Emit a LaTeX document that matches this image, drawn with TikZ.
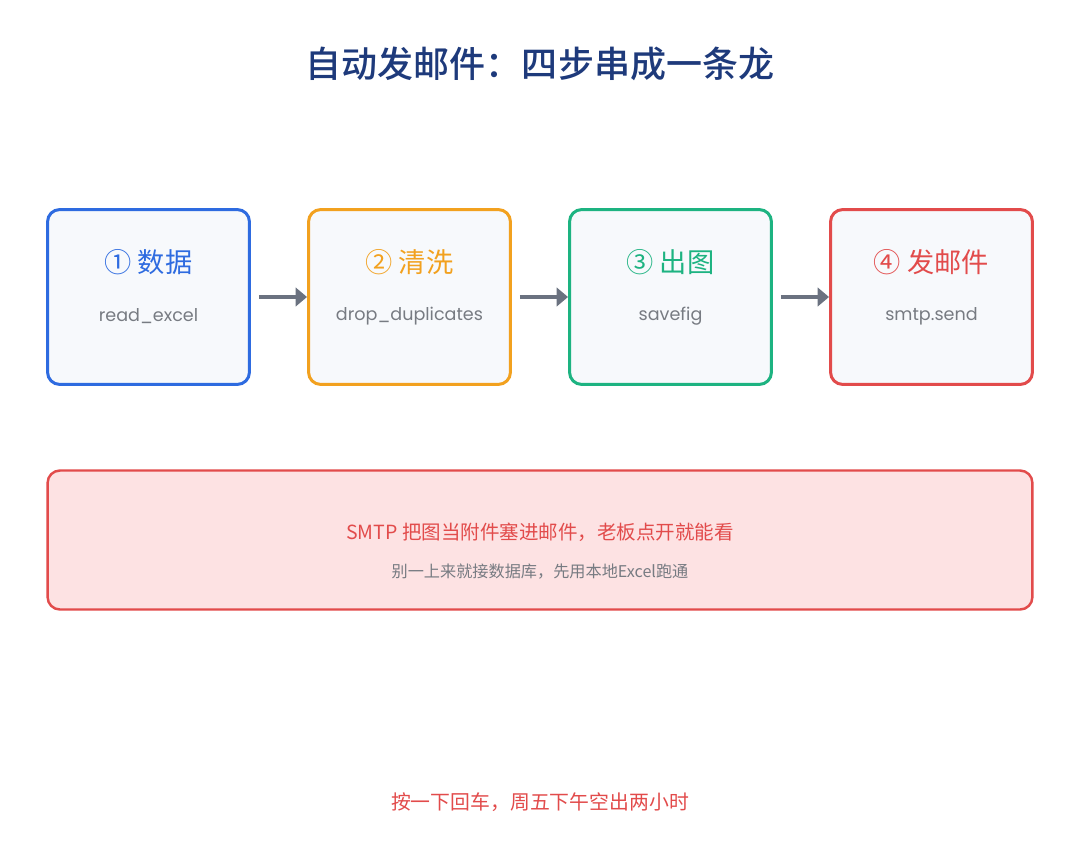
\documentclass[tikz,border=0pt]{standalone}
\usepackage{fontspec}
\setmainfont{Noto Sans CJK SC}
\newfontfamily\medfont{Noto Sans CJK SC Medium}
\newfontfamily\codefont{Poppins}
\usetikzlibrary{positioning, arrows.meta}

\definecolor{titleblue}{HTML}{1E3A7B}
\definecolor{stepblue}{HTML}{2E6BE0}
\definecolor{steporange}{HTML}{F2A11F}
\definecolor{stepgreen}{HTML}{1DB381}
\definecolor{stepred}{HTML}{E24B4B}
\definecolor{boxfill}{HTML}{F7F9FC}
\definecolor{notefill}{HTML}{FDE2E3}
\definecolor{codegray}{HTML}{777B82}
\definecolor{arrowgray}{HTML}{6B7280}

\tikzset{
    stepbox/.style={draw=#1, line width=1.7pt, rounded corners=7pt, fill=boxfill,
        minimum width=4.04cm, minimum height=3.5cm},
    steptitle/.style={text=#1, font=\fontsize{15.5}{17}\selectfont},
    stepcode/.style={text=codegray, font=\codefont\fontsize{10}{12}\selectfont},
    flow/.style={draw=arrowgray, line width=2.3pt,
        -{Triangle[length=6.5pt, width=10.5pt]}, shorten <=0.16cm}
}

\begin{document}
\begin{tikzpicture}[x=0.02cm, y=-0.02cm]
        \useasboundingbox[fill=white] (0,0) rectangle (1080,866);

        \node[text=titleblue, font=\medfont\fontsize{20.5}{24}\selectfont] (title) at (540,64) {自动发邮件：四步串成一条龙};

        \node[stepbox=stepblue] (s1) at (148.5,297) {};
        \node[steptitle=stepblue] (s1t) at ([yshift=0.7cm]s1.center) {① 数据};
        \node[stepcode] (s1c) at ([yshift=-0.38cm]s1.center) {read\_excel};

        \node[stepbox=steporange] (s2) at (409.5,297) {};
        \node[steptitle=steporange] (s2t) at ([yshift=0.7cm]s2.center) {② 清洗};
        \node[stepcode] (s2c) at ([yshift=-0.38cm]s2.center) {drop\_duplicates};

        \node[stepbox=stepgreen] (s3) at (670.5,297) {};
        \node[steptitle=stepgreen] (s3t) at ([yshift=0.7cm]s3.center) {③ 出图};
        \node[stepcode] (s3c) at ([yshift=-0.38cm]s3.center) {savefig};

        \node[stepbox=stepred] (s4) at (931.5,297) {};
        \node[steptitle=stepred] (s4t) at ([yshift=0.7cm]s4.center) {④ 发邮件};
        \node[stepcode] (s4c) at ([yshift=-0.38cm]s4.center) {smtp.send};

        \path[flow] (s1) -- (s2);
        \path[flow] (s2) -- (s3);
        \path[flow] (s3) -- (s4);

        \node[draw=stepred, line width=1.4pt, rounded corners=7pt, fill=notefill,
            minimum width=19.7cm, minimum height=2.78cm] (note) at (540,540) {};
        \node[text=stepred, font=\fontsize{11.1}{13}\selectfont] (notemain) at ([yshift=0.16cm]note.center) {SMTP 把图当附件塞进邮件，老板点开就能看};
        \node[text=codegray, font=\fontsize{9.2}{11}\selectfont] (notesub) at ([yshift=-0.64cm]note.center) {别一上来就接数据库，先用本地Excel跑通};

        \node[text=stepred, font=\fontsize{11.3}{13}\selectfont] (footer) at (540,802) {按一下回车，周五下午空出两小时};
    \end{tikzpicture}
\end{document}
